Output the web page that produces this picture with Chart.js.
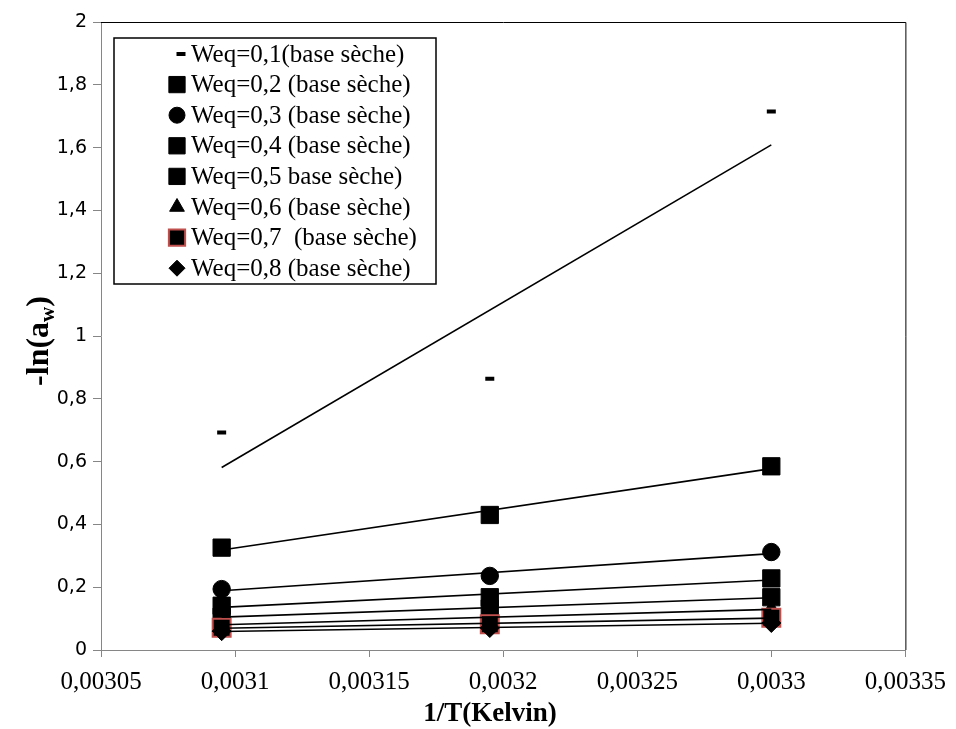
<!DOCTYPE html>
<html>
<head>
<meta charset="utf-8">
<script src="https://cdn.jsdelivr.net/npm/chart.js@4/dist/chart.umd.min.js"></script>
<style>
html,body{margin:0;padding:0;background:#ffffff;}
#wrap{width:956px;height:729px;position:relative;}
canvas{display:block;}
</style>
</head>
<body>
<div id="wrap"><canvas id="c" width="956" height="729"></canvas></div>
<script>
// ---------- data ----------
const invTemps = [0.003095, 0.003195, 0.0033];
const seriesNames = [
  'Weq=0,1(base sèche)',
  'Weq=0,2 (base sèche)',
  'Weq=0,3 (base sèche)',
  'Weq=0,4 (base sèche)',
  'Weq=0,5 base sèche)',
  'Weq=0,6 (base sèche)',
  'Weq=0,7  (base sèche)',
  'Weq=0,8 (base sèche)'
];
const weq01 = [0.693, 0.864, 1.715];
const weq02 = [0.326, 0.430, 0.585];
const weq03 = [0.194, 0.236, 0.312];
const weq04 = [0.141, 0.168, 0.228];
const weq05 = [0.106, 0.132, 0.168];
const weq06 = [0.082, 0.101, 0.131];
const weq07 = [0.071, 0.082, 0.103];
const weq08 = [0.060, 0.070, 0.086];
const xTickValues = [0.00305, 0.0031, 0.00315, 0.0032, 0.00325, 0.0033, 0.00335];
const xTickLabels = ['0,00305', '0,0031', '0,00315', '0,0032', '0,00325', '0,0033', '0,00335'];
const yTickValues = [0, 0.2, 0.4, 0.6, 0.8, 1, 1.2, 1.4, 1.6, 1.8, 2];
const yTickLabels = ['0', '0,2', '0,4', '0,6', '0,8', '1', '1,2', '1,4', '1,6', '1,8', '2'];
const xTitle = '1/T(Kelvin)';
const yTitleMain = '-ln(a';
const yTitleSub = 'w';
const yTitleEnd = ')';

const allSeries = [weq01, weq02, weq03, weq04, weq05, weq06, weq07, weq08];

// ---------- styles ----------
const RED = '#C0504D';
const markerStyles = [
  {pointStyle: 'line', radius: 4.5, borderWidth: 4, backgroundColor: '#000', borderColor: '#000'},
  {pointStyle: 'rect', radius: 12.2, borderWidth: 1, backgroundColor: '#000', borderColor: '#000'},
  {pointStyle: 'circle', radius: 8.7, borderWidth: 1, backgroundColor: '#000', borderColor: '#000'},
  {pointStyle: 'rect', radius: 12.2, borderWidth: 1, backgroundColor: '#000', borderColor: '#000'},
  {pointStyle: 'rect', radius: 12.2, borderWidth: 1, backgroundColor: '#000', borderColor: '#000'},
  {pointStyle: 'triangle', radius: 9, borderWidth: 1, backgroundColor: '#000', borderColor: '#000'},
  {pointStyle: 'rect', radius: 12.7, borderWidth: 2, backgroundColor: '#000', borderColor: RED},
  {pointStyle: 'rectRot', radius: 9.5, borderWidth: 1, backgroundColor: '#000', borderColor: '#000'}
];
const legendMarkerStyles = [
  {pointStyle: 'line', radius: 4.5, borderWidth: 4, backgroundColor: '#000', borderColor: '#000'},
  {pointStyle: 'rect', radius: 11.5, borderWidth: 1, backgroundColor: '#000', borderColor: '#000'},
  {pointStyle: 'circle', radius: 8, borderWidth: 1, backgroundColor: '#000', borderColor: '#000'},
  {pointStyle: 'rect', radius: 11.5, borderWidth: 1, backgroundColor: '#000', borderColor: '#000'},
  {pointStyle: 'rect', radius: 11.5, borderWidth: 1, backgroundColor: '#000', borderColor: '#000'},
  {pointStyle: 'triangle', radius: 8.5, borderWidth: 1, backgroundColor: '#000', borderColor: '#000'},
  {pointStyle: 'rect', radius: 11.5, borderWidth: 2, backgroundColor: '#000', borderColor: RED},
  {pointStyle: 'rectRot', radius: 8, borderWidth: 1, backgroundColor: '#000', borderColor: '#000'}
];
const legendMarkerX = [181, 177, 177, 177, 177, 177, 177, 177];

// least-squares trend line (as the spreadsheet's linear trendline), from first to last x
function trendLine(xs, ys) {
  const n = xs.length;
  const mx = xs.reduce((a, b) => a + b, 0) / n;
  const my = ys.reduce((a, b) => a + b, 0) / n;
  let sxy = 0, sxx = 0;
  for (let i = 0; i < n; i++) { sxy += (xs[i] - mx) * (ys[i] - my); sxx += (xs[i] - mx) * (xs[i] - mx); }
  const b = sxy / sxx, a = my - b * mx;
  return [{x: xs[0], y: a + b * xs[0]}, {x: xs[n - 1], y: a + b * xs[n - 1]}];
}

const datasets = [];
allSeries.forEach((vals, i) => {
  const st = markerStyles[i];
  datasets.push({
    label: seriesNames[i],
    data: invTemps.map((x, k) => ({x: x, y: vals[k]})),
    showLine: false,
    pointStyle: st.pointStyle,
    pointRadius: st.radius,
    pointHoverRadius: st.radius,
    pointBorderWidth: st.borderWidth,
    pointBackgroundColor: st.backgroundColor,
    pointBorderColor: st.borderColor,
    order: 100 - i
  });
});
allSeries.forEach((vals, i) => {
  datasets.push({
    label: 'trend ' + seriesNames[i],
    data: trendLine(invTemps, vals),
    showLine: true,
    borderColor: '#000',
    borderWidth: 1.6,
    pointRadius: 0,
    pointHoverRadius: 0,
    fill: false,
    order: 1
  });
});

const SERIF = '"Liberation Serif", "Times New Roman", serif';
const SANS = '"DejaVu Sans", Verdana, sans-serif';

const decorPlugin = {
  id: 'decor',
  afterDraw(chart) {
    const ctx = chart.ctx;
    const ca = chart.chartArea;
    ctx.save();
    // black frame top and right
    ctx.strokeStyle = '#000';
    ctx.lineWidth = 1;
    ctx.beginPath();
    ctx.moveTo(ca.left, ca.top + 0.5);
    ctx.lineTo(ca.right + 0.5, ca.top + 0.5);
    ctx.lineTo(ca.right + 0.5, ca.bottom);
    ctx.stroke();

    // legend
    const lx = 114, ly = 38, lw = 322, lh = 246, rowH = 30.6, firstRow = 54;
    ctx.fillStyle = '#fff';
    ctx.fillRect(lx, ly, lw, lh);
    ctx.strokeStyle = '#000';
    ctx.lineWidth = 1.5;
    ctx.strokeRect(lx, ly, lw, lh);
    ctx.font = '25px ' + SERIF;
    ctx.textBaseline = 'middle';
    ctx.textAlign = 'left';
    seriesNames.forEach((name, i) => {
      const y = firstRow + i * rowH;
      const st = legendMarkerStyles[i];
      ctx.save();
      ctx.fillStyle = st.backgroundColor;
      ctx.strokeStyle = st.borderColor;
      ctx.lineWidth = st.borderWidth;
      Chart.helpers.drawPoint(ctx, {pointStyle: st.pointStyle, rotation: 0, radius: st.radius, borderWidth: st.borderWidth}, legendMarkerX[i], y);
      ctx.restore();
      ctx.fillStyle = '#000';
      ctx.font = '25px ' + SERIF;
      ctx.textBaseline = 'middle';
      ctx.textAlign = 'left';
      ctx.fillText(name, 191, y + 1);
    });

    // x title
    ctx.fillStyle = '#000';
    ctx.font = 'bold 27px ' + SERIF;
    ctx.textAlign = 'center';
    ctx.textBaseline = 'middle';
    ctx.fillText(xTitle, 490, 714);

    // y title with subscript, rotated
    ctx.translate(38, 341);
    ctx.rotate(-Math.PI / 2);
    const fMain = 'bold 32px ' + SERIF, fSub = 'bold 21px ' + SERIF;
    ctx.font = fMain; const w1 = ctx.measureText(yTitleMain).width; const w3 = ctx.measureText(yTitleEnd).width;
    ctx.font = fSub; const w2 = ctx.measureText(yTitleSub).width;
    const x0 = -(w1 + w2 + w3) / 2;
    ctx.textAlign = 'left';
    ctx.textBaseline = 'alphabetic';
    ctx.font = fMain; ctx.fillText(yTitleMain, x0, 10);
    ctx.font = fSub; ctx.fillText(yTitleSub, x0 + w1, 16);
    ctx.font = fMain; ctx.fillText(yTitleEnd, x0 + w1 + w2, 10);
    ctx.restore();
  }
};

new Chart(document.getElementById('c'), {
  type: 'scatter',
  data: {datasets: datasets},
  plugins: [decorPlugin],
  options: {
    responsive: false,
    animation: false,
    devicePixelRatio: 1,
    layout: {padding: {top: 22, right: 44, left: 0, bottom: 0}},
    plugins: {legend: {display: false}, tooltip: {enabled: false}},
    scales: {
      x: {
        type: 'linear',
        min: 0.00305,
        max: 0.00335,
        afterBuildTicks: s => { s.ticks = xTickValues.map(v => ({value: v})); },
        afterFit: s => { s.height = 79; },
        ticks: {
          callback: (v, i) => xTickLabels[i],
          font: {family: SERIF, size: 25},
          color: '#000',
          padding: 10,
          maxRotation: 0,
          autoSkip: false
        },
        grid: {drawOnChartArea: false, drawTicks: true, tickLength: 7, color: '#868686'},
        border: {display: true, color: '#868686', width: 1}
      },
      y: {
        type: 'linear',
        min: 0,
        max: 2,
        afterBuildTicks: s => { s.ticks = yTickValues.map(v => ({value: v})); },
        afterFit: s => { s.width = 101; },
        ticks: {
          callback: (v, i) => yTickLabels[i],
          font: {family: SANS, size: 19},
          color: '#000',
          padding: 6,
          autoSkip: false
        },
        grid: {drawOnChartArea: false, drawTicks: true, tickLength: 8, color: '#868686'},
        border: {display: true, color: '#868686', width: 1}
      }
    }
  }
});
</script>
</body>
</html>
